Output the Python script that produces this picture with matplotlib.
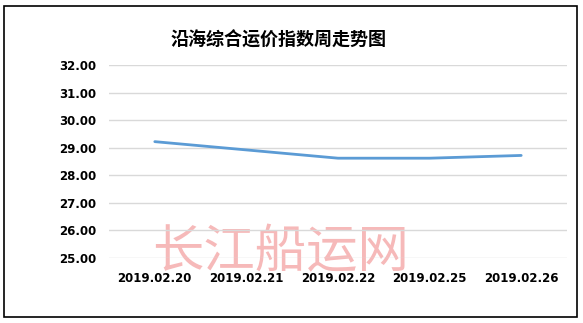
import matplotlib.pyplot as plt
from matplotlib.patches import Rectangle

plt.rcParams['font.family'] = ['Noto Sans CJK SC', 'DejaVu Sans']

# data
dates = ["2019.02.20", "2019.02.21", "2019.02.22", "2019.02.25", "2019.02.26"]
index_values = [29.22, 28.92, 28.62, 28.62, 28.72]
y_ticks = [25, 26, 27, 28, 29, 30, 31, 32]

fig = plt.figure(figsize=(5.83, 3.23), dpi=100)
W, H = 583, 323

# outer frame around the chart
fig.patches.append(Rectangle((4 / W, 6 / H), 573 / W, 311 / H, transform=fig.transFigure,
                             fill=False, edgecolor='black', linewidth=1.2))

ax = fig.add_axes([109 / W, 1 - 258 / H, 458 / W, (258 - 65) / H])
ax.patch.set_visible(False)
x = list(range(len(dates)))
ax.plot(x, index_values, color='#5B9BD5', linewidth=2.0, solid_capstyle='round')

ax.set_xlim(-0.5, len(dates) - 0.5)
ax.set_ylim(25, 32)
ax.set_yticks(y_ticks)
ax.set_yticklabels([f"{v:.2f}" for v in y_ticks], fontsize=8.5, fontweight='bold',
                   family='DejaVu Sans')
ax.set_xticks(x)
ax.set_xticklabels(dates, fontsize=8.5, fontweight='bold', family='DejaVu Sans')
ax.tick_params(axis='both', length=0)
ax.tick_params(axis='y', pad=9)
ax.tick_params(axis='x', pad=10)
ax.grid(axis='y', color='#D9D9D9', linewidth=1.0)
ax.set_axisbelow(True)
for s in ax.spines.values():
    s.set_visible(False)

fig.text(279 / W, 1 - 40 / H, "沿海综合运价指数周走势图", ha='center', va='center',
         fontsize=13, fontweight='bold', color='black')

# watermark, drawn beneath the axes content
fig.text(281 / W, 1 - 252 / H, "长江船运网", ha='center', va='center',
         fontsize=37, color='#F08080', alpha=0.55, zorder=-1)

fig.savefig("out.png", dpi=100)
